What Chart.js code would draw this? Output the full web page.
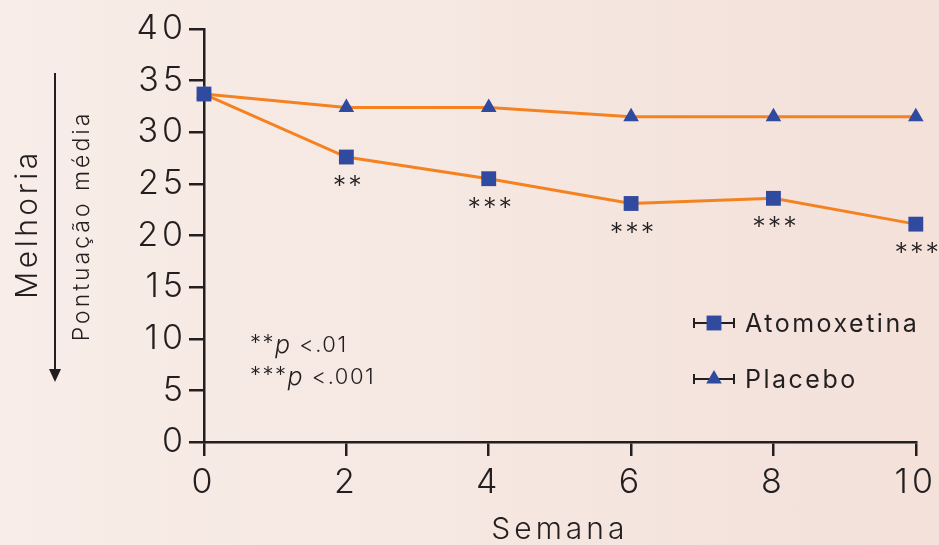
<!DOCTYPE html>
<html>
<head>
<meta charset="utf-8">
<script src="https://cdn.jsdelivr.net/npm/chart.js@4/dist/chart.umd.min.js"></script>
<style>
  html, body { margin: 0; padding: 0; }
  body { width: 939px; height: 545px; background: linear-gradient(to right, #f8ede8, #f3e1da); overflow: hidden; }
  #wrap { position: relative; width: 939px; height: 545px; }
</style>
</head>
<body>
<div id="wrap"><canvas id="chart"></canvas></div>
<script>
var weeks = [0, 2, 4, 6, 8, 10];
var atomoxetina = [33.7, 27.6, 25.5, 23.1, 23.6, 21.1];
var placebo = [33.7, 32.4, 32.4, 31.5, 31.5, 31.5];
var sigMarks = ['', '**', '***', '***', '***', '***'];
var seriesNames = ['Atomoxetina', 'Placebo'];
var pNotes = [['**', ' <.01'], ['***', ' <.001']];

var ink = '#231f20';
var orange = '#f58220';
var blue = '#2f4a9e';
var fontName = 'Inter, "Noto Sans", sans-serif';

// wide letter spacing for the axis text, like the original typeface
var spacing = {
  id: 'spacing',
  beforeDraw: function(chart) { chart.ctx.letterSpacing = '4px'; },
  afterDraw: function(chart) { chart.ctx.letterSpacing = '0px'; }
};

// annotations, titles and legend drawn on the canvas
var extras = {
  id: 'extras',
  afterDatasetsDraw: function(chart) {
    var ctx = chart.ctx, x = chart.scales.x, y = chart.scales.y;
    ctx.save();
    ctx.fillStyle = ink;

    // significance stars under the atomoxetina points
    ctx.font = '300 27px ' + fontName;
    ctx.textAlign = 'center';
    ctx.textBaseline = 'middle';
    ctx.letterSpacing = '2px';
    sigMarks.forEach(function(m, i) {
      if (!m) return;
      ctx.fillText(m, x.getPixelForValue(weeks[i]) + 2, y.getPixelForValue(atomoxetina[i]) + 30);
    });

    // y titles and arrow
    ctx.save();
    ctx.translate(28, 224);
    ctx.rotate(-Math.PI / 2);
    ctx.font = '300 30px ' + fontName;
    ctx.letterSpacing = '3.5px';
    ctx.fillText('Melhoria', 0, 0);
    ctx.restore();
    ctx.save();
    ctx.translate(82, 226);
    ctx.rotate(-Math.PI / 2);
    ctx.font = '300 23px ' + fontName;
    ctx.letterSpacing = '3px';
    ctx.fillText('Pontuação média', 0, 0);
    ctx.restore();
    ctx.strokeStyle = ink;
    ctx.lineWidth = 2;
    ctx.beginPath();
    ctx.moveTo(55, 73);
    ctx.lineTo(55, 372);
    ctx.stroke();
    ctx.beginPath();
    ctx.moveTo(49, 369);
    ctx.lineTo(61, 369);
    ctx.lineTo(55, 382);
    ctx.closePath();
    ctx.fill();

    // p-value notes
    ctx.textAlign = 'left';
    ctx.letterSpacing = '1.5px';
    pNotes.forEach(function(n, i) {
      var px = 250, py = 345 + i * 32;
      ctx.font = '300 22px ' + fontName;
      ctx.fillText(n[0], px, py - 2);
      px += ctx.measureText(n[0]).width;
      ctx.font = 'italic 300 25px ' + fontName;
      ctx.fillText('p', px, py);
      px += ctx.measureText('p').width;
      ctx.font = '300 22px ' + fontName;
      ctx.fillText(n[1], px, py);
    });

    // legend
    ctx.letterSpacing = '2.5px';
    chart.data.datasets.forEach(function(ds, i) {
      var ly = 323 + i * 56;
      ctx.strokeStyle = ink;
      ctx.lineWidth = 2;
      ctx.beginPath();
      ctx.moveTo(694, ly); ctx.lineTo(734, ly);
      ctx.moveTo(694, ly - 5); ctx.lineTo(694, ly + 5);
      ctx.moveTo(734, ly - 5); ctx.lineTo(734, ly + 5);
      ctx.stroke();
      ctx.fillStyle = blue;
      Chart.helpers.drawPoint(ctx, { pointStyle: ds.pointStyle, radius: ds.pointRadius, rotation: 0 }, 714, ly);
      ctx.fillStyle = ink;
      ctx.font = '400 25px ' + fontName;
      ctx.textBaseline = 'middle';
      ctx.fillText(ds.label, 745, ly + 1);
    });
    ctx.restore();
  }
};

new Chart(document.getElementById('chart'), {
  type: 'line',
  data: {
    datasets: [{
      label: seriesNames[0],
      data: weeks.map(function(w, i) { return { x: w, y: atomoxetina[i] }; }),
      borderColor: orange,
      borderWidth: 3,
      pointStyle: 'rect',
      pointRadius: 10.5,
      pointBackgroundColor: blue,
      pointBorderWidth: 0,
      clip: false
    }, {
      label: seriesNames[1],
      data: weeks.map(function(w, i) { return { x: w, y: placebo[i] }; }),
      borderColor: orange,
      borderWidth: 3,
      pointStyle: 'triangle',
      pointRadius: 9,
      pointBackgroundColor: blue,
      pointBorderWidth: 0,
      clip: false
    }]
  },
  options: {
    responsive: true,
    maintainAspectRatio: false,
    animation: false,
    layout: { padding: { top: 29, right: 22, left: 0, bottom: 0 } },
    plugins: { legend: { display: false }, tooltip: { enabled: false } },
    scales: {
      x: {
        type: 'linear',
        min: 0, max: 10,
        afterFit: function(s) { s.height = 103; },
        ticks: { stepSize: 2, color: ink, font: { size: 34, weight: 300, family: fontName }, padding: 6 },
        grid: { drawOnChartArea: false, tickLength: 14, color: ink, lineWidth: 2.5 },
        border: { color: ink, width: 2.5 },
        title: { display: true, text: 'Semana', color: ink, font: { size: 30, weight: 300, family: fontName, lineHeight: 1 }, padding: { top: 0, bottom: 0 } }
      },
      y: {
        min: 0, max: 40,
        afterFit: function(s) { s.width = 204; },
        ticks: { stepSize: 5, color: ink, font: { size: 34, weight: 300, family: fontName }, padding: 2 },
        grid: { drawOnChartArea: false, tickLength: 15, color: ink, lineWidth: 2.5 },
        border: { color: ink, width: 2.5 }
      }
    }
  },
  plugins: [spacing, extras]
});
</script>
</body>
</html>
